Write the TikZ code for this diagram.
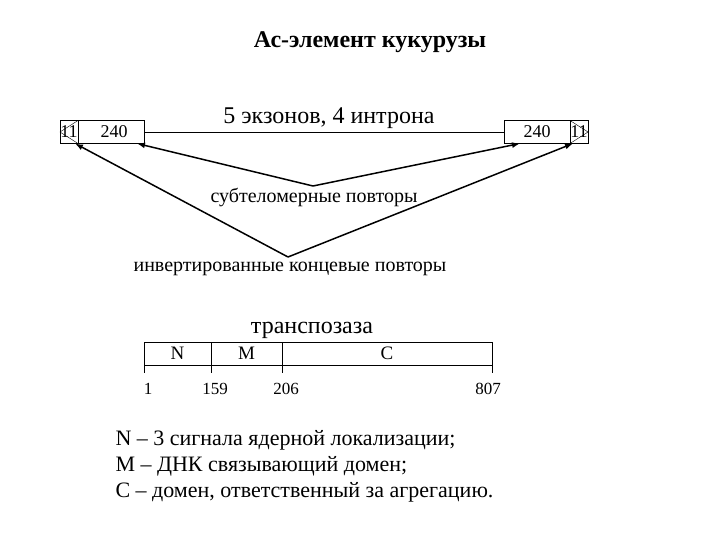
\documentclass[tikz,border=0pt]{standalone}
\usepackage{fontspec}
\setmainfont{Liberation Serif}
\usetikzlibrary{arrows.meta}
\newcommand{\fs}[1]{\fontsize{#1}{#1}\selectfont}
\begin{document}
\begin{tikzpicture}[x=1pt,y=-1pt,
  box/.style={draw,minimum height=23pt,inner sep=0pt,outer sep=0pt,font=\fs{18}},
  seg/.style={draw,minimum height=23pt,inner sep=0pt,outer sep=0pt,font=\fs{19}},
  lbl/.style={font=\fs{20}},
  num/.style={font=\fs{17}},
  rep/.style={line width=1.5pt,-{Latex[length=8pt,width=6pt]}},
  >=latex]
  \useasboundingbox (0,0) rectangle (720,540);
  \node[font=\bfseries\fs{24}] (title) at (370,42) {Ас-элемент кукурузы};
  % концы элемента
  \node[box,minimum width=18pt] (l11) at (69,132) {11};
  \node[box,minimum width=66pt,anchor=west] (l240) at (l11.east) {\hspace{6pt}240};
  \node[box,minimum width=18pt] (r11) at (579,132) {11};
  \node[box,minimum width=66pt,anchor=east] (r240) at (r11.west) {240};
  \draw (l11.north east) -- (l11.west) -- (l11.south east);
  \draw (r11.north west) -- (r11.east) -- (r11.south west);
  \draw (l240) -- (r240);
  \node[font=\fs{24}] (exons) at (329,118) {5 экзонов, 4 интрона};
  % повторы
  \coordinate (sub) at (313,186);
  \coordinate (inv) at (288,257);
  \draw[rep] (sub) -- ([xshift=-7pt]l240.south east);
  \draw[rep] (sub) -- ([xshift=16pt]r240.south west);
  \draw[rep] (inv) -- ([xshift=6pt]l11.south);
  \draw[rep] (inv) -- ([xshift=-6pt]r11.south);
  \node[lbl] (subt) at (314,198) {субтеломерные повторы};
  \node[lbl] (itr) at (290,269) {инвертированные концевые повторы};
  % транспозаза
  \node[font=\fs{24}] (tpase) at (312,330) {транспозаза};
  \node[seg,minimum width=67pt] (N) at (177.5,353.5) {N};
  \node[seg,minimum width=71pt,anchor=west] (M) at (N.east) {M};
  \node[seg,minimum width=210pt,anchor=west] (C) at (M.east) {C};
  \foreach \s/\t/\dx in {N.south west/1/4, M.south west/159/4,
                          C.south west/206/4, C.south east/807/-4}{
    \draw (\s) -- ++(0,8);
    \node[num] (n\t) at ([shift={(\dx,24)}]\s) {\t};
  }
  \node[anchor=west,align=left,font=\fontsize{22}{26}\selectfont] (legend) at (112,466)
    {N – 3 сигнала ядерной локализации;\\
     M – ДНК связывающий домен;\\
     C – домен, ответственный за агрегацию.};
\end{tikzpicture}
\end{document}
